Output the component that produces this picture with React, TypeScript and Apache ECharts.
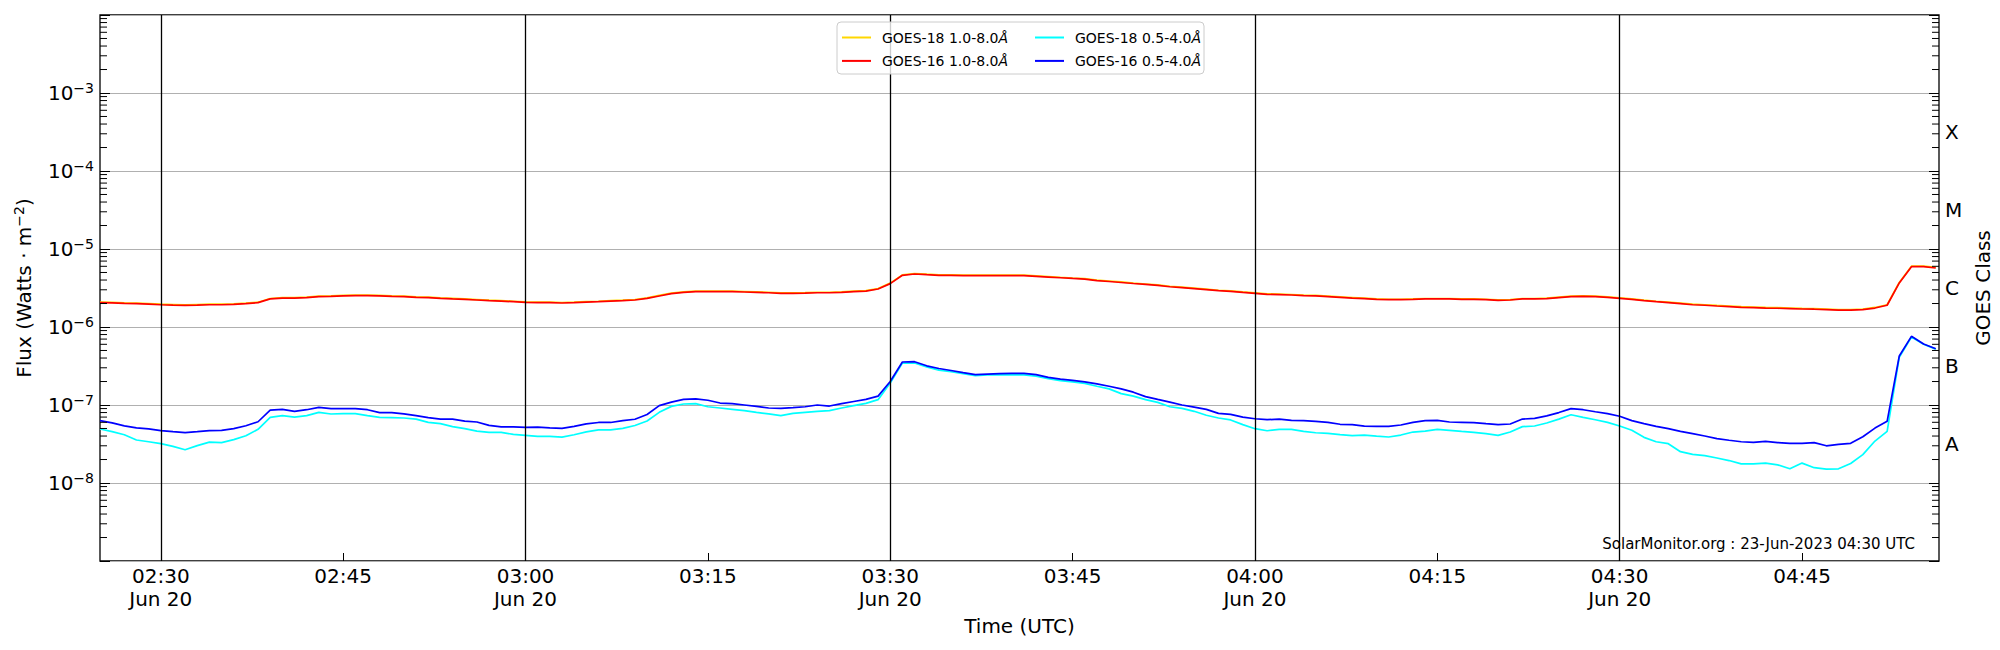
import React, { useEffect, useRef } from 'react';
import * as echarts from 'echarts';

// ---- time base (1-minute cadence, UTC) ----
const DAY = { y: 2023, m: 5, d: 20 };
const START_HM = '02:25';
const END_HM = '04:56:16';
const CADENCE_MS = 60000;
const DATE_LABEL = 'Jun 20';
const FLUX_UNIT = 1e-9; // values below are in nW m^-2

// GOES-18 1.0-8.0 Å (gold)
const goes18Long = [
  2080, 2070, 2040, 2020, 2000, 1960, 1940, 1920, 1940, 1960,
  1960, 1980, 2020, 2080, 2320, 2380, 2390, 2420, 2490, 2510,
  2540, 2560, 2560, 2540, 2510, 2490, 2440, 2420, 2370, 2330,
  2290, 2250, 2210, 2180, 2140, 2100, 2080, 2080, 2060, 2080,
  2120, 2140, 2180, 2210, 2250, 2360, 2540, 2720, 2820, 2880,
  2880, 2880, 2880, 2850, 2820, 2790, 2740, 2740, 2760, 2790,
  2790, 2820, 2880, 2930, 3110, 3650, 4660, 4850, 4750, 4670,
  4670, 4620, 4620, 4620, 4620, 4620, 4620, 4530, 4440, 4340,
  4250, 4170, 4000, 3890, 3780, 3660, 3560, 3460, 3330, 3240,
  3150, 3060, 2960, 2910, 2820, 2740, 2660, 2640, 2610, 2560,
  2540, 2490, 2440, 2390, 2340, 2290, 2270, 2270, 2290, 2320,
  2320, 2320, 2290, 2290, 2270, 2230, 2250, 2320, 2320, 2340,
  2420, 2490, 2510, 2490, 2440, 2370, 2290, 2210, 2140, 2080,
  2020, 1960, 1930, 1890, 1860, 1820, 1800, 1780, 1770, 1750,
  1730, 1720, 1700, 1670, 1670, 1700, 1780, 1930, 3720, 6020,
  6030, 5800,
];

// GOES-16 1.0-8.0 Å (red)
const goes16Long = [
  2050, 2040, 2010, 1990, 1970, 1930, 1910, 1895, 1910, 1930,
  1930, 1950, 1990, 2050, 2290, 2350, 2350, 2380, 2450, 2470,
  2500, 2520, 2520, 2500, 2470, 2450, 2400, 2380, 2330, 2290,
  2260, 2220, 2180, 2150, 2110, 2070, 2050, 2050, 2030, 2050,
  2090, 2110, 2150, 2180, 2220, 2330, 2500, 2680, 2780, 2840,
  2840, 2840, 2840, 2810, 2780, 2750, 2700, 2700, 2720, 2750,
  2750, 2780, 2840, 2890, 3070, 3600, 4600, 4780, 4680, 4600,
  4600, 4550, 4550, 4550, 4550, 4550, 4550, 4460, 4370, 4280,
  4190, 4110, 3940, 3830, 3720, 3610, 3510, 3410, 3280, 3190,
  3100, 3010, 2920, 2870, 2780, 2700, 2620, 2600, 2570, 2520,
  2500, 2450, 2400, 2350, 2310, 2260, 2240, 2240, 2260, 2290,
  2290, 2290, 2260, 2260, 2240, 2200, 2220, 2290, 2290, 2310,
  2380, 2450, 2470, 2450, 2400, 2330, 2260, 2180, 2110, 2050,
  1990, 1930, 1900, 1860, 1830, 1790, 1770, 1750, 1740, 1720,
  1700, 1690, 1670, 1650, 1650, 1670, 1750, 1900, 3670, 5940,
  5940, 5710,
];

// GOES-18 0.5-4.0 Å (cyan)
const goes18Short = [
  49.2, 45.5, 41.6, 35.6, 33.8, 31.9, 29.5, 26.7, 30.1, 33.4,
  32.9, 36, 40.4, 48.8, 69.5, 73, 70, 73, 80.5, 76.7,
  77.5, 77.5, 73, 69.5, 68.8, 68.1, 66, 59.9, 57.6, 52.8,
  49.7, 46.3, 44.6, 44.6, 42, 40.8, 39.6, 39.6, 38.8, 41.6,
  45.2, 48, 48, 50.2, 54.6, 62.4, 80.5, 96, 103, 104,
  95, 91.5, 88, 84.6, 80.5, 76.8, 73, 78, 80.5, 83,
  84.6, 91.5, 98, 105, 117, 191, 345, 345, 308, 280,
  267, 252, 238, 243, 245, 243, 243, 234, 218, 205,
  198, 189, 174, 161, 140, 130, 117, 108, 95, 90.6,
  83, 73.9, 68.1, 64.3, 56, 49.7, 46.8, 48.7, 48.7, 45.9,
  44.1, 43.2, 41.6, 40.4, 41.2, 40, 38.9, 41.2, 45, 46.3,
  48.7, 47.4, 45.9, 44.6, 42.9, 40.8, 45, 52.8, 53.8, 58.8,
  66, 75, 69.5, 64.7, 59.9, 53.8, 47.4, 38.5, 33.8, 31.9,
  25.2, 23.3, 22.4, 20.9, 19.4, 17.6, 17.6, 18, 17.1, 15.2,
  18, 15.7, 15.1, 15.2, 17.8, 23.1, 34.5, 45.9, 410, 745,
  600, 520,
];

// GOES-16 0.5-4.0 Å (blue)
const goes16Short = [
  63, 59, 54, 51, 49.5, 47, 45.5, 44.2, 45.5, 47,
  47.4, 49.7, 54.2, 61, 86, 88, 83, 87, 93, 90,
  90, 90, 87, 80, 80, 77, 73, 69, 66, 66,
  62, 60.5, 54.7, 52.5, 52.5, 51.6, 52, 51, 50.2, 53.2,
  57.3, 59.7, 59.7, 63, 65.7, 75.6, 98, 109, 118, 120,
  115, 106, 104, 100, 96, 91.5, 90.6, 92.4, 95, 100,
  97, 104, 111, 118, 130, 200, 356, 359, 318, 294,
  277, 260, 245, 249, 252, 255, 255, 245, 226, 215,
  207, 198, 187, 174, 161, 146, 128, 118, 109, 100,
  94, 88, 78, 76, 70, 66.6, 64.8, 66, 63.5, 63,
  61.8, 60, 56.6, 56, 53.7, 53.2, 53.2, 55.4, 60, 63,
  63.5, 60.5, 60, 59.4, 57.6, 56, 57.1, 66, 67.4, 72.4,
  80, 90, 87, 82, 77.5, 71.7, 63, 57.6, 53.3, 49.7,
  46, 42.9, 40, 37.1, 35.3, 33.8, 33.2, 34.2, 33, 32.3,
  32.3, 33, 30, 31.3, 32.3, 39.2, 50.6, 61.8, 425, 759,
  606, 527,
];

const seriesNames = [
  'GOES-18 1.0-8.0Å',
  'GOES-16 1.0-8.0Å',
  'GOES-18 0.5-4.0Å',
  'GOES-16 0.5-4.0Å',
];
const seriesColors = ['#ffd700', '#ff0000', '#00ffff', '#0000ff'];

const tickTimes = ['02:30', '02:45', '03:00', '03:15', '03:30', '03:45', '04:00', '04:15', '04:30', '04:45'];
const dateMarkTimes = ['02:30', '03:00', '03:30', '04:00', '04:30'];
const yDecades = [-9, -8, -7, -6, -5, -4, -3, -2];
const yLabelDecades = [-8, -7, -6, -5, -4, -3];
const minorMultipliers = [2, 3, 4, 5, 6, 7, 8, 9];
const goesClasses = ['A', 'B', 'C', 'M', 'X'];
const goesClassCenters = [-7.5, -6.5, -5.5, -4.5, -3.5];
const WATERMARK = 'SolarMonitor.org : 23-Jun-2023 04:30 UTC';

const FONT = 'DejaVu Sans';

function hm(s: string): number {
  const [h, m, sec] = s.split(':').map(Number);
  return Date.UTC(DAY.y, DAY.m, DAY.d, h, m, sec || 0);
}
const START = hm(START_HM);
const END = hm(END_HM);
const tickMs = tickTimes.map(hm);
const dateMarkMs = dateMarkTimes.map(hm);
const pad = (n: number) => String(n).padStart(2, '0');

const toPoints = (vals: number[]) => vals.map((v, i) => [START + i * CADENCE_MS, v * FLUX_UNIT]);

const minorTickValues: number[] = [];
yDecades.slice(0, -1).forEach((e) => minorMultipliers.forEach((k) => minorTickValues.push(k * Math.pow(10, e))));

const allSeriesValues = [goes18Long, goes16Long, goes18Short, goes16Short];

function buildOption(): any {
  const lineSeries = allSeriesValues.map((vals, idx) => {
    const s: any = {
      name: seriesNames[idx],
      type: 'line',
      data: toPoints(vals),
      symbol: 'none',
      showSymbol: false,
      lineStyle: { color: seriesColors[idx], width: 1.7 },
      itemStyle: { color: seriesColors[idx] },
      emphasis: { disabled: true },
      z: 2 + idx * 0.1,
    };
    if (idx === 0) {
      s.markLine = {
        silent: true,
        symbol: ['none', 'none'],
        label: { show: false },
        emphasis: { disabled: true },
        lineStyle: { color: '#000', width: 1.3, type: 'solid' },
        data: dateMarkMs.map((t) => ({ xAxis: t })),
      };
    }
    return s;
  });

  const tickSeries = {
    type: 'custom',
    silent: true,
    clip: false,
    z: 3,
    data: minorTickValues.map((v) => [START, v]),
    renderItem: (params: any, api: any) => {
      const cs = params.coordSys;
      const y = api.coord([START, api.value(1)])[1];
      const len = 7;
      return {
        type: 'group',
        children: [
          { type: 'line', shape: { x1: cs.x, y1: y, x2: cs.x + len, y2: y }, style: { stroke: '#000', lineWidth: 1 } },
          {
            type: 'line',
            shape: { x1: cs.x + cs.width - len, y1: y, x2: cs.x + cs.width, y2: y },
            style: { stroke: '#000', lineWidth: 1 },
          },
        ],
      };
    },
  };

  const legendText = {
    fontSize: 14,
    color: '#000',
    fontFamily: FONT,
    padding: [0, 0, 0, 6],
    rich: { i: { fontSize: 14, fontStyle: 'italic', color: '#000', fontFamily: FONT } },
  };
  const legendCommon = {
    orient: 'vertical',
    top: 30.5,
    itemWidth: 29,
    itemHeight: 14,
    itemGap: 9.4,
    padding: 0,
    z: 20,
    selectedMode: false,
    itemStyle: { opacity: 0, color: 'rgba(0,0,0,0)', borderWidth: 0 },
    formatter: (name: string) => name.replace('Å', '{i|Å}'),
    textStyle: legendText,
  };

  return {
    animation: false,
    backgroundColor: '#fff',
    textStyle: { fontFamily: FONT },
    grid: {
      left: 100,
      right: 61,
      top: 15,
      bottom: 89,
      show: true,
      borderColor: '#000',
      borderWidth: 1.3,
      backgroundColor: 'transparent',
      containLabel: false,
      outerBoundsMode: 'none',
    },
    legend: [
      { ...legendCommon, left: 841, data: [seriesNames[0], seriesNames[1]] },
      { ...legendCommon, left: 1034, data: [seriesNames[2], seriesNames[3]] },
    ],
    xAxis: {
      type: 'value',
      min: START,
      max: END,
      axisLine: { show: false },
      splitLine: { show: false },
      axisTick: { show: true, inside: true, length: 8, customValues: tickMs, lineStyle: { color: '#000', width: 1 } },
      axisLabel: {
        customValues: tickMs,
        fontSize: 20,
        lineHeight: 23.5,
        color: '#000',
        margin: 3,
        fontFamily: FONT,
        formatter: (v: number) => {
          const d = new Date(v);
          const t = `${pad(d.getUTCHours())}:${pad(d.getUTCMinutes())}`;
          return dateMarkMs.includes(v) ? `${t}\n${DATE_LABEL}` : t;
        },
      },
      name: 'Time (UTC)',
      nameLocation: 'middle',
      nameGap: 51,
      nameTextStyle: { fontSize: 20, color: '#000', fontFamily: FONT },
    },
    yAxis: [
      {
        type: 'log',
        logBase: 10,
        min: Math.pow(10, yDecades[0]),
        max: Math.pow(10, yDecades[yDecades.length - 1]),
        splitNumber: 7,
        axisLine: { show: false },
        axisTick: { show: true, inside: true, length: 10, lineStyle: { color: '#000', width: 1 } },
        splitLine: { show: true, lineStyle: { color: '#b0b0b0', width: 1 } },
        axisLabel: {
          margin: 6,
          formatter: (v: number) => {
            const e = Math.round(Math.log10(v));
            if (!yLabelDecades.includes(e)) return '';
            return `{b|10}{s|−${-e}}`;
          },
          rich: {
            b: { fontSize: 20, lineHeight: 24, color: '#000', fontFamily: FONT },
            s: { fontSize: 14, lineHeight: 14, verticalAlign: 'top', color: '#000', fontFamily: FONT },
          },
        },
        name: '{a|Flux (Watts · m}{s|−2}{a|)}',
        nameLocation: 'middle',
        nameRotate: 90,
        nameGap: 64,
        nameTextStyle: {
          fontSize: 20,
          color: '#000',
          fontFamily: FONT,
          rich: {
            a: { fontSize: 20, lineHeight: 24, color: '#000', fontFamily: FONT },
            s: { fontSize: 14, lineHeight: 14, verticalAlign: 'top', color: '#000', fontFamily: FONT },
          },
        },
      },
      {
        type: 'value',
        position: 'right',
        min: yDecades[0],
        max: yDecades[yDecades.length - 1],
        axisLine: { show: false },
        splitLine: { show: false },
        axisTick: { show: true, inside: true, length: 10, customValues: yDecades, lineStyle: { color: '#000', width: 1 } },
        axisLabel: {
          customValues: goesClassCenters,
          margin: 6,
          fontSize: 20,
          color: '#000',
          fontFamily: FONT,
          formatter: (v: number) => {
            const i = goesClassCenters.indexOf(v);
            return i >= 0 ? goesClasses[i] : '';
          },
        },
        name: 'GOES Class',
        nameLocation: 'middle',
        nameRotate: 90,
        nameGap: 17,
        nameTextStyle: { fontSize: 20, color: '#000', fontFamily: FONT },
      },
    ],
    graphic: [
      {
        type: 'rect',
        z: 15,
        shape: { x: 837, y: 22, width: 367, height: 52, r: 4 },
        style: { fill: 'rgba(255,255,255,0.8)', stroke: '#cccccc', lineWidth: 1 },
      },
      {
        type: 'text',
        z: 15,
        x: 1915,
        y: 543.5,
        style: {
          text: WATERMARK,
          fill: '#000',
          font: `15px "${FONT}"`,
          align: 'right',
          verticalAlign: 'middle',
          textAlign: 'right',
          textVerticalAlign: 'middle',
        },
      },
    ],
    series: [...lineSeries, tickSeries],
  };
}

export default function App() {
  const ref = useRef<HTMLDivElement>(null);
  useEffect(() => {
    if (!ref.current) return;
    const chart = echarts.init(ref.current, null, { renderer: 'svg' });
    chart.setOption(buildOption());
    return () => chart.dispose();
  }, []);
  return (
    <div
      ref={ref}
      style={{ position: 'fixed', left: 0, top: 0, width: 2000, height: 650, background: '#fff' }}
    />
  );
}
